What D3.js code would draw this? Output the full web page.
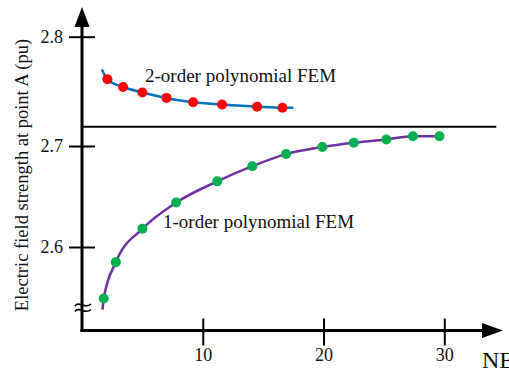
<!DOCTYPE html>
<html>
<head>
<meta charset="utf-8">
<script src="https://cdn.jsdelivr.net/npm/d3@7"></script>
<style>
  html, body { margin: 0; padding: 0; background: #fff; }
  svg { display: block; }
  text { font-family: "Liberation Serif", "Times New Roman", serif; fill: #111; }
</style>
</head>
<body>
<svg id="chart" width="509" height="368"></svg>
<script>
// Number of elements (NE) for each computed point
const neSecondOrder = [2.1, 3.4, 5.0, 7.0, 9.2, 11.6, 14.5, 16.6];
const fieldSecondOrder = [2.761, 2.754, 2.749, 2.744, 2.740, 2.738, 2.736, 2.735];

const neFirstOrder = [1.8, 2.8, 5.0, 7.8, 11.2, 14.1, 16.9, 19.9, 22.5, 25.2, 27.4, 29.6];
const fieldFirstOrder = [2.549, 2.585, 2.618, 2.644, 2.665, 2.680, 2.692, 2.699, 2.703, 2.706, 2.709, 2.709];

// Fitted trend curves (sampled along each fit)
const fitSecondX = [1.65, 2.1, 3.4, 5.0, 7.0, 9.2, 11.6, 14.5, 16.6, 17.5];
const fitSecondY = [2.770, 2.761, 2.754, 2.749, 2.744, 2.740, 2.738, 2.736, 2.735, 2.735];
const fitFirstX = [1.7, 1.8, 2.8, 5.0, 7.8, 11.2, 14.1, 16.9, 19.9, 22.5, 25.2, 27.4, 29.6, 29.9];
const fitFirstY = [2.538, 2.549, 2.585, 2.618, 2.644, 2.665, 2.680, 2.692, 2.699, 2.703, 2.706, 2.709, 2.709, 2.709];

// Reference (exact) value
const referenceValue = [2.7177];

const xTicks = [10, 20, 30];
const yTicks = [2.6, 2.7, 2.8];
const yTickLabels = ["2.6", "2.7", "2.8"];
const labels = ["2-order polynomial FEM", "1-order polynomial FEM"];

const svg = d3.select("#chart");

const x = d3.scaleLinear().domain([0, 30]).range([82, 444.3]);
// piecewise scale: the axis below 2.7 is drawn slightly compressed
const y = d3.scaleLinear().domain([2.6, 2.7, 2.8]).range([247, 146, 36.7]);

const axisY0 = 330.5;

// Axes
const xAxis = svg.append("g")
  .attr("transform", `translate(0,${axisY0})`)
  .call(d3.axisBottom(x).tickValues(xTicks).tickFormat(d3.format("d")).tickSize(15).tickPadding(3));
xAxis.select(".domain").remove();
xAxis.selectAll(".tick line").attr("y1", -12).attr("stroke", "#000").attr("stroke-width", 2);
xAxis.selectAll(".tick text").style("font-size", "18px").style("font-family", "Liberation Serif").attr("fill", "#111");

const yAxis = svg.append("g")
  .attr("transform", `translate(${x(0)},0)`)
  .call(d3.axisLeft(y).tickValues(yTicks).tickFormat((d, i) => yTickLabels[i]).tickSize(13).tickPadding(6));
yAxis.select(".domain").remove();
yAxis.selectAll(".tick line").attr("x1", 13).attr("stroke", "#000").attr("stroke-width", 2);
yAxis.selectAll(".tick text").style("font-size", "18px").style("font-family", "Liberation Serif").attr("fill", "#111");

// Axis lines with arrow heads
const x0 = x(0);
svg.append("line").attr("x1", x0).attr("x2", x0).attr("y1", axisY0 + 1.5).attr("y2", 25)
  .attr("stroke", "#000").attr("stroke-width", 3);
svg.append("path").attr("d", `M${x0 - 7.5},27 L${x0},7 L${x0 + 7.5},27 Z`).attr("fill", "#000");
svg.append("line").attr("x1", x0 - 1.5).attr("x2", 484).attr("y1", axisY0).attr("y2", axisY0)
  .attr("stroke", "#000").attr("stroke-width", 3);
svg.append("path").attr("d", `M482,${axisY0 - 7.5} L503,${axisY0} L482,${axisY0 + 7.5} Z`).attr("fill", "#000");

// Axis break marker
const bY = 304;
[0, 5.5].forEach(off => {
  svg.append("path")
    .attr("d", `M${x0 - 7},${bY + off + 2} C${x0 - 3},${bY + off - 4} ${x0 + 3},${bY + off + 6} ${x0 + 9},${bY + off}`)
    .attr("fill", "none").attr("stroke", "#000").attr("stroke-width", 1.6);
});

// Reference line
svg.append("line")
  .attr("x1", x0).attr("x2", x(34.3))
  .attr("y1", y(referenceValue[0])).attr("y2", y(referenceValue[0]))
  .attr("stroke", "#000").attr("stroke-width", 2);

// Fit curves
const line = d3.line().x(d => x(d[0])).y(d => y(d[1])).curve(d3.curveMonotoneX);
svg.append("path").datum(d3.zip(fitSecondX, fitSecondY))
  .attr("d", line).attr("fill", "none").attr("stroke", "#0070c0").attr("stroke-width", 2.5);
svg.append("path").datum(d3.zip(fitFirstX, fitFirstY))
  .attr("d", line).attr("fill", "none").attr("stroke", "#7030a0").attr("stroke-width", 2.5);

// Points
svg.append("g").selectAll("circle").data(d3.zip(neSecondOrder, fieldSecondOrder)).join("circle")
  .attr("cx", d => x(d[0])).attr("cy", d => y(d[1])).attr("r", 5).attr("fill", "#ff0000");
svg.append("g").selectAll("circle").data(d3.zip(neFirstOrder, fieldFirstOrder)).join("circle")
  .attr("cx", d => x(d[0])).attr("cy", d => y(d[1])).attr("r", 5).attr("fill", "#00b050");

// Series labels
svg.append("text").attr("x", 145).attr("y", 82).style("font-size", "19px").text(labels[0]);
svg.append("text").attr("x", 163).attr("y", 228).style("font-size", "19px").text(labels[1]);

// Axis titles
svg.append("text").attr("x", 482).attr("y", 368).style("font-size", "24px").text("NE");
svg.append("text")
  .attr("transform", `translate(28,${(35 + 315) / 2}) rotate(-90)`)
  .attr("text-anchor", "middle")
  .style("font-size", "18.5px")
  .text("Electric field strength at point A (pu)");
</script>
</body>
</html>
